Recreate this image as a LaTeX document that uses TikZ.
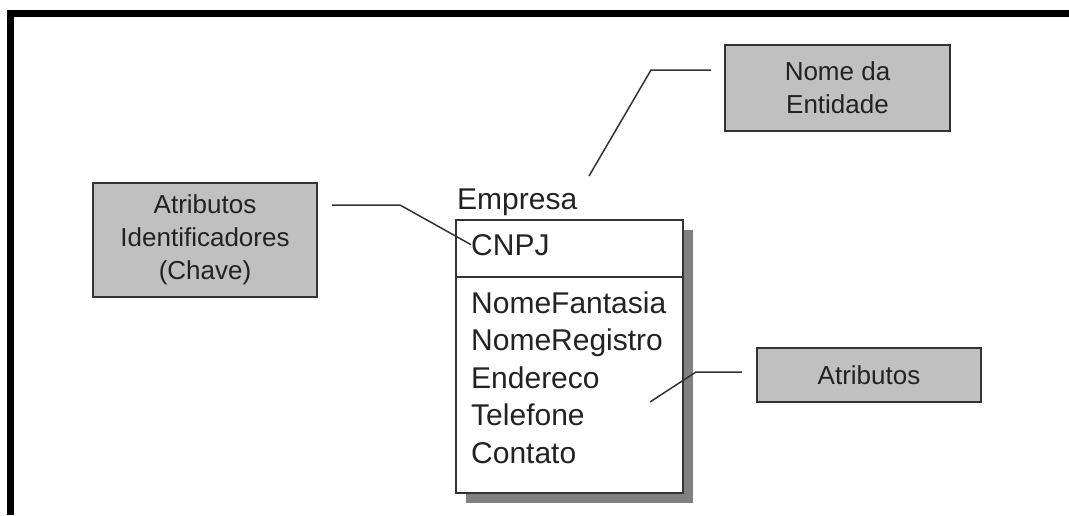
\documentclass[tikz,border=0pt]{standalone}
\usepackage{fontspec}
\setmainfont{Liberation Sans}
\usepackage{xcolor}
\usepackage{tikz}
\usetikzlibrary{shadows}

\definecolor{linha}{HTML}{333333}
\definecolor{caixa}{HTML}{C0C0C0}
\definecolor{sombra}{HTML}{808080}
\definecolor{texto}{HTML}{222222}

\tikzset{
  nota/.style={draw=linha, fill=caixa, line width=1.8pt, align=center, text=texto,
    font=\fontsize{26}{33}\selectfont, inner sep=0pt},
  entidade/.style={draw=linha, fill=white, line width=1.5pt, inner sep=0pt,
    minimum width=227pt, minimum height=273pt,
    drop shadow={shadow xshift=10pt, shadow yshift=-10pt, fill=sombra, opacity=1}},
  campo/.style={anchor=base west, inner sep=0pt, text=texto, font=\fontsize{30}{36}\selectfont},
  ligacao/.style={draw=linha, line width=1.5pt}
}

\begin{document}
\begin{tikzpicture}[x=1pt, y=1pt]
    \useasboundingbox (0,0) rectangle (1069,-515);
    \draw[line width=6.8pt] (10.7,-515) -- (10.7,-13.7) -- (1069,-13.7);

    \node[nota, minimum width=225pt, minimum height=86pt] (nome) at (837.5,-88) {Nome da\\Entidade};
    \node[nota, minimum width=224pt, minimum height=114pt] (chave) at (205,-240) {Atributos\\Identificadores\\(Chave)};
    \node[nota, minimum width=224pt, minimum height=54pt] (atrib) at (869,-375) {Atributos};

    \node[entidade] (ent) at (569.5,-356.5) {};
    \draw[ligacao] (ent.west |- 0,-277) -- (ent.east |- 0,-277);

    \node[campo] (empresa) at (457,-209) {Empresa};
    \node[campo] (cnpj) at (471,-255) {CNPJ};
    \node[campo] (fantasia) at (471,-313) {NomeFantasia};
    \node[campo] (registro) at (471,-350.5) {NomeRegistro};
    \node[campo] (endereco) at (471,-388) {Endereco};
    \node[campo] (telefone) at (471,-425.5) {Telefone};
    \node[campo] (contato) at (471,-463) {Contato};

    % pontas das ligacoes
    \coordinate (nomeA) at (711,-70);
    \coordinate (nomeB) at (651,-70);
    \coordinate (nomeC) at (589,-176);
    \coordinate (chaveA) at (332,-205);
    \coordinate (chaveB) at (400,-205);
    \coordinate (atribA) at (742,-372);
    \coordinate (atribB) at (696,-372);
    \coordinate (atribC) at (650,-402);

    \draw[ligacao] (nomeA) -- (nomeB) -- (nomeC);
    \draw[ligacao] (chaveA) -- (chaveB) -- (cnpj.west);
    \draw[ligacao] (atribA) -- (atribB) -- (atribC);
\end{tikzpicture}
\end{document}
